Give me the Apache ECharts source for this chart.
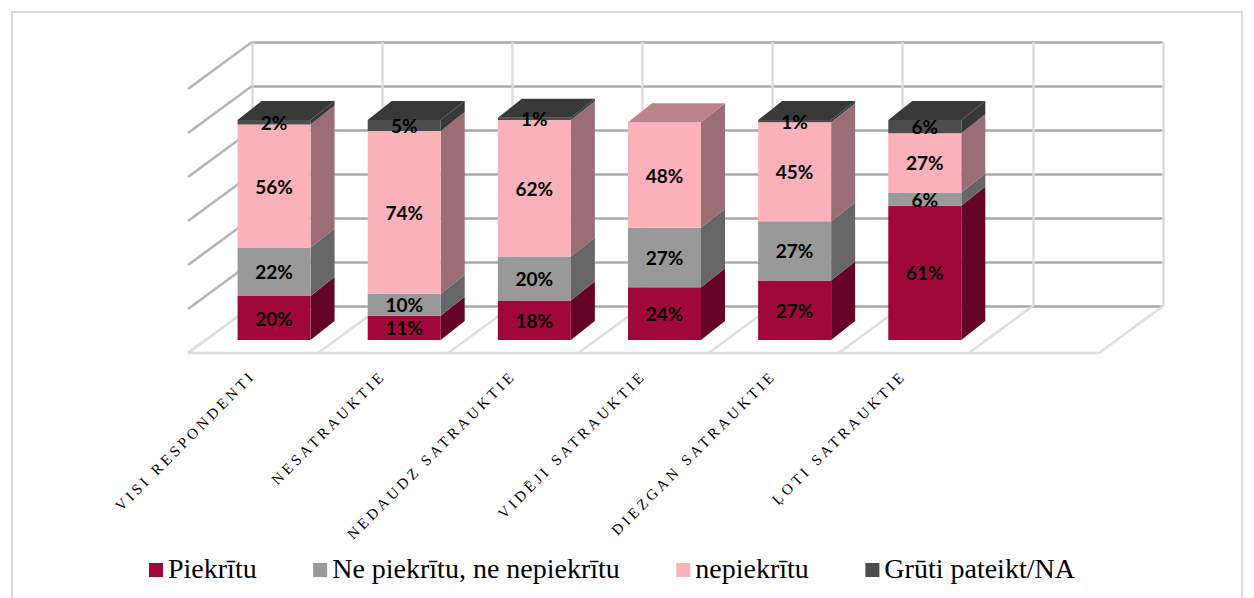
<!DOCTYPE html>
<html>
<head>
<meta charset="utf-8">
<style>
  html, body { margin: 0; padding: 0; background: #fff; overflow: hidden; }
  #frame { position: absolute; left: 11px; top: 11px; width: 1232px; height: 600px; border: 2px solid #d9d9d9; box-sizing: border-box; }
  #chart { position: absolute; left: 0; top: 0; width: 1254px; height: 598px; }
  /* axis labels are letter spaced in the original */
  #chart text[style*="15px"] { letter-spacing: 3.5px; }
</style>
<script src="https://cdn.jsdelivr.net/npm/echarts@6/dist/echarts.min.js"></script>
</head>
<body>
<div id="frame"></div>
<div id="chart"></div>
<script>
var categories = ["VISI RESPONDENTI", "NESATRAUKTIE", "NEDAUDZ SATRAUKTIE", "VIDĒJI SATRAUKTIE", "DIEZGAN SATRAUKTIE", "ĻOTI SATRAUKTIE", ""];
var piekritu = [20, 11, 18, 24, 27, 61];
var neitrali = [22, 10, 20, 27, 27, 6];
var nepiekritu = [56, 74, 62, 48, 45, 27];
var gruti = [2, 5, 1, 0, 1, 6];
var seriesNames = ["Piekrītu", "Ne piekrītu, ne nepiekrītu", "nepiekrītu", "Grūti pateikt/NA"];
var ticks = [0, 20, 40, 60, 80, 100, 120];

var stacks = [piekritu, neitrali, nepiekritu, gruti];
var front = ["#a0083c", "#999999", "#fbb1b9", "#4d4d4d"];
var side = ["#650427", "#666666", "#9a6e74", "#383838"];
var top3d = ["#7a0630", "#808080", "#bc8489", "#383838"];

// wall -> floor front edge
var floorDx = -64, floorDy = 47;
// wall -> bar front plane
var barDx = -43, barDy = 34;
var depthDx = 24, depthDy = -19;
var barW = 73;

var myChart = echarts.init(document.getElementById("chart"), null, { renderer: "svg" });

function poly(points, color) {
  return { type: "polygon", shape: { points: points }, style: { fill: color } };
}

function barItem(s) {
  return function (params, api) {
    var cat = api.value(0), base = api.value(1), val = api.value(2);
    if (!val) return null;
    var p0 = api.coord([cat, base]);
    var p1 = api.coord([cat, base + val]);
    var l = p0[0] + barDx - barW / 2, r = l + barW;
    var b = p0[1] + barDy, t = p1[1] + barDy;
    var children = [
      poly([[r, b], [r + depthDx, b + depthDy], [r + depthDx, t + depthDy], [r, t]], side[s]),
      poly([[l, b], [r, b], [r, t], [l, t]], front[s])
    ];
    // only the last segment of a column shows its top
    var isTop = true;
    for (var k = s + 1; k < stacks.length; k++) {
      if (stacks[k][cat] > 0) isTop = false;
    }
    if (isTop) {
      children.push(poly([[l, t], [r, t], [r + depthDx, t + depthDy], [l + depthDx, t + depthDy]], top3d[s]));
    }
    children.push({
      type: "text",
      z2: 10,
      style: {
        x: (l + r) / 2,
        y: (b + t) / 2,
        text: val + "%",
        fill: "#000",
        font: "bold 19px Lato",
        align: "center",
        verticalAlign: "middle"
      }
    });
    return { type: "group", children: children };
  };
}

function stackData(s) {
  return stacks[s].map(function (v, i) {
    var base = 0;
    for (var k = 0; k < s; k++) base += stacks[k][i];
    return [i, base, v];
  });
}

var barSeries = seriesNames.map(function (name, s) {
  return {
    name: name,
    type: "custom",
    xAxisIndex: 0,
    yAxisIndex: 0,
    z: 5,
    itemStyle: { color: front[s] },
    data: stackData(s),
    encode: { x: 0, y: 2 },
    renderItem: barItem(s)
  };
});

// left wall, one slanted line per tick
var wallSeries = {
  type: "custom",
  xAxisIndex: 0,
  yAxisIndex: 0,
  silent: true,
  z: 1,
  data: ticks.map(function (t) { return [0, t]; }),
  renderItem: function (params, api) {
    var x = params.coordSys.x;
    var y = api.coord([0, api.value(1)])[1];
    return {
      type: "line",
      shape: { x1: x, y1: y, x2: x + floorDx, y2: y + floorDy },
      style: { stroke: api.value(1) === 0 ? "#dddddd" : "#b5b5b5", lineWidth: 2.5 }
    };
  }
};

// floor, slanted line per category edge plus the front edge
var floorSeries = {
  type: "custom",
  xAxisIndex: 0,
  yAxisIndex: 0,
  silent: true,
  z: 1,
  data: categories.map(function (c, i) { return [i, 0]; }).concat([[categories.length, 0]]),
  renderItem: function (params, api) {
    var cs = params.coordSys;
    var i = api.value(0);
    var x = cs.x + i * cs.width / categories.length;
    var y = cs.y + cs.height;
    var children = [{
      type: "line",
      shape: { x1: x, y1: y, x2: x + floorDx, y2: y + floorDy },
      style: { stroke: "#dddddd", lineWidth: 2.5 }
    }];
    if (i === 0) {
      children.push({
        type: "line",
        shape: { x1: x + floorDx, y1: y + floorDy, x2: x + floorDx + cs.width, y2: y + floorDy },
        style: { stroke: "#dddddd", lineWidth: 2.5 }
      });
    }
    return { type: "group", children: children };
  }
};

var option = {
  animation: false,
  backgroundColor: "transparent",
  legend: {
    data: seriesNames,
    left: 144,
    top: 549,
    // square sits lower than the text centre, hence the empty top of the path
    icon: "path://M0 0M0 4H14V18H0Z",
    itemWidth: 14,
    itemHeight: 18,
    itemGap: 56.5,
    selectedMode: false,
    textStyle: { color: "#000", fontFamily: "Liberation Serif", fontSize: 28, padding: 0 }
  },
  grid: [
    { left: 252, top: 42, width: 911, height: 264 },
    { left: 188, top: 89, width: 911, height: 264 }
  ],
  xAxis: [
    {
      type: "category",
      gridIndex: 0,
      data: categories,
      axisLine: { show: false },
      axisTick: { show: false },
      axisLabel: { show: false },
      splitLine: { show: true, interval: 0, lineStyle: { color: "#dddddd", width: 2.5 } }
    },
    {
      type: "category",
      gridIndex: 1,
      data: categories,
      axisLine: { show: false },
      axisTick: { show: false },
      axisLabel: {
        interval: 0,
        rotate: 45,
        margin: 20,
        color: "#000",
        fontFamily: "Liberation Serif",
        fontSize: 15
      }
    }
  ],
  yAxis: [
    {
      type: "value",
      gridIndex: 0,
      min: 0,
      max: 120,
      interval: 20,
      axisLine: { show: false },
      axisTick: { show: false },
      axisLabel: { show: false },
      splitLine: { show: true, lineStyle: { color: "#aaaaaa", width: 2.5 } }
    },
    {
      type: "value",
      gridIndex: 1,
      min: 0,
      max: 120,
      interval: 20,
      show: false,
      splitLine: { show: false }
    }
  ],
  series: [wallSeries, floorSeries].concat(barSeries)
};

myChart.setOption(option);
</script>
</body>
</html>
